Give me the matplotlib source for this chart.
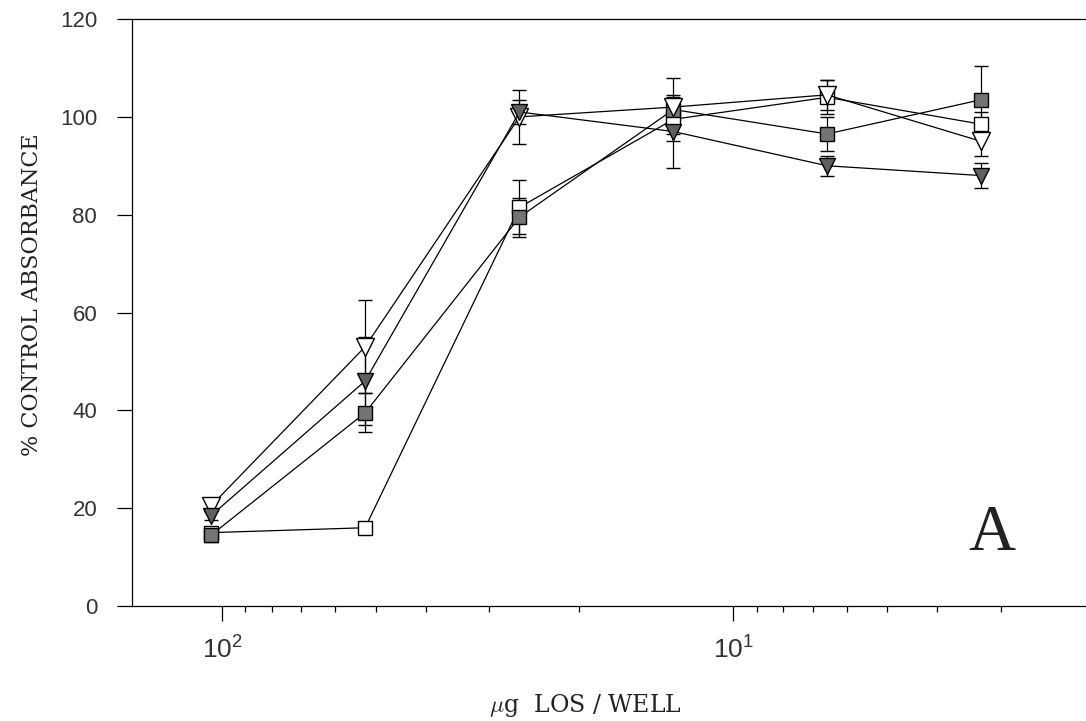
import matplotlib
matplotlib.use('Agg')
import matplotlib.pyplot as plt
from matplotlib.ticker import LogLocator, NullFormatter, FixedLocator


# LOS dose per well (ug) and percent of control absorbance, mean and error
dose = [105, 52.5, 26.2, 13.1, 6.56, 3.28]

open_square = [15, 16, 81.5, 99.5, 104, 98.5]
open_square_err = [1, 1, 5.5, 3, 3.5, 2.5]

filled_square = [14.5, 39.5, 79.5, 101.5, 96.5, 103.5]
filled_square_err = [1.5, 4, 4, 6.5, 3.5, 7]

open_triangle = [20.5, 53, 100, 102, 104.5, 95]
open_triangle_err = [1, 9.5, 5.5, 2, 3, 3]

filled_triangle = [18.5, 46, 101, 97, 90, 88]
filled_triangle_err = [1, 9, 2.5, 7.5, 2, 2.5]

y_ticks = [0, 20, 40, 60, 80, 100, 120]


def draw_series(ax, values, errors, marker, face, size):
    ax.errorbar(dose, values, yerr=errors, color='black', linewidth=0.9,
                elinewidth=0.9, capsize=5, capthick=0.9,
                marker=marker, markersize=size, markerfacecolor=face,
                markeredgecolor='black', markeredgewidth=1.0)


def main():
    plt.rcParams['mathtext.fontset'] = 'cm'
    plt.rcParams['font.family'] = ['Liberation Sans', 'DejaVu Sans']

    fig = plt.figure(figsize=(10.86, 7.21), dpi=100)
    ax = fig.add_axes([0.1215, 0.1595, 0.883, 0.8141])

    draw_series(ax, open_square, open_square_err, 's', 'white', 9.5)
    draw_series(ax, filled_square, filled_square_err, 's', '#747474', 9.5)
    draw_series(ax, open_triangle, open_triangle_err, 'v', 'white', 12.5)
    draw_series(ax, filled_triangle, filled_triangle_err, 'v', '#606060', 11.5)

    ax.set_xscale('log')
    ax.set_xlim(150, 2)
    ax.set_ylim(0, 120)
    ax.yaxis.set_major_locator(FixedLocator(y_ticks))
    ax.xaxis.set_major_locator(LogLocator(base=10))
    ax.xaxis.set_minor_locator(LogLocator(base=10, subs=range(2, 10)))
    ax.xaxis.set_minor_formatter(NullFormatter())

    ax.spines['right'].set_visible(False)
    for side in ['left', 'bottom', 'top']:
        ax.spines[side].set_linewidth(0.9)

    ax.tick_params(axis='both', which='major', direction='out', length=11,
                   width=0.9, labelsize=16, labelcolor='#333333')
    ax.tick_params(axis='x', which='major', pad=11, labelsize=19)
    ax.tick_params(axis='y', which='major', pad=14)
    ax.tick_params(axis='x', which='minor', direction='out', length=4.5, width=0.9)

    ax.set_ylabel('% CONTROL ABSORBANCE', fontfamily='DejaVu Serif', fontsize=16,
                  color='#222222')
    ax.yaxis.set_label_coords(-0.093, 0.53)
    ax.set_xlabel(r'$\mu$g  LOS / WELL', fontfamily='DejaVu Serif', fontsize=17,
                  va='top', color='#222222')
    ax.xaxis.set_label_coords(0.4724, -0.1465)

    ax.text(0.897, 0.0954, 'A', transform=ax.transAxes, ha='center',
            va='baseline', fontfamily='Liberation Serif', fontsize=47,
            color='#222222')

    fig.savefig('out.png', dpi=100)


if __name__ == '__main__':
    main()
